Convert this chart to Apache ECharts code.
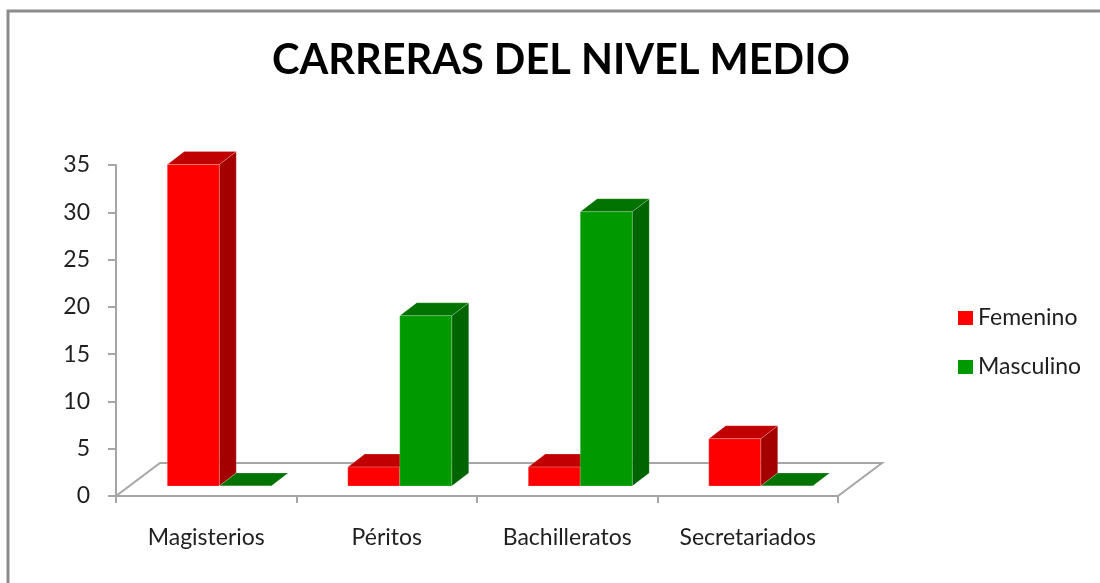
<!DOCTYPE html>
<html>
<head>
<meta charset="utf-8">
<script src="https://cdn.jsdelivr.net/npm/echarts@6/dist/echarts.min.js"></script>
<style>
html,body{margin:0;padding:0;background:#fff;}
#chart{width:1100px;height:583px;}
</style>
</head>
<body>
<div id="chart"></div>
<script>
const titleText = 'CARRERAS DEL NIVEL MEDIO';
const categories = ['Magisterios', 'Péritos', 'Bachilleratos', 'Secretariados'];
const seriesNames = ['Femenino', 'Masculino'];
const femenino = [34, 2, 2, 5];
const masculino = [0, 18, 29, 0];
const yMin = 0;
const yMax = 35;
const yInterval = 5;

const palettes = [
  { front: '#ff0000', side: '#a50000', top: '#c00000' },
  { front: '#009900', side: '#006400', top: '#007300' }
];

// 3D projection parameters (pixels)
const FLOOR_DX = 44, FLOOR_DY = -33;
const BAR_SHIFT_X = 13, BAR_SHIFT_Y = -10;
const BAR_DX = 17, BAR_DY = -13;

function makeRender(idx) {
  const pal = palettes[idx];
  return function (params, api) {
    const cat = api.value(0);
    const val = api.value(1);
    const base = api.coord([cat, 0]);
    const top = api.coord([cat, val]);
    const band = api.size([1, 0])[0];
    const bw = band * 0.288;
    const x0 = base[0] + BAR_SHIFT_X + (idx === 0 ? -bw : 0);
    const x1 = x0 + bw;
    const yb = base[1] + BAR_SHIFT_Y;
    const yt = top[1] + BAR_SHIFT_Y;
    const edge = { stroke: 'rgba(255,255,255,0.35)', lineWidth: 0.6 };
    return {
      type: 'group',
      children: [
        { type: 'polygon', shape: { points: [[x1, yb], [x1 + BAR_DX, yb + BAR_DY], [x1 + BAR_DX, yt + BAR_DY], [x1, yt]] },
          style: Object.assign({ fill: pal.side }, edge) },
        { type: 'polygon', shape: { points: [[x0, yt], [x0 + BAR_DX, yt + BAR_DY], [x1 + BAR_DX, yt + BAR_DY], [x1, yt]] },
          style: Object.assign({ fill: pal.top }, edge) },
        { type: 'rect', shape: { x: x0, y: yt, width: bw, height: yb - yt },
          style: Object.assign({ fill: pal.front }, edge) }
      ]
    };
  };
}

function renderFloor(params, api) {
  if (params.dataIndex !== 0) return null;
  const first = api.coord([0, 0]);
  const last = api.coord([categories.length - 1, 0]);
  const band = api.size([1, 0])[0];
  const xl = first[0] - band / 2, xr = last[0] + band / 2, y = first[1];
  return {
    type: 'group',
    children: [
      { type: 'polygon', shape: { points: [[xl, y], [xl + FLOOR_DX, y + FLOOR_DY], [xr + FLOOR_DX, y + FLOOR_DY], [xr, y]] },
        style: { fill: '#ffffff', stroke: '#a6a6a6', lineWidth: 2 } }
    ]
  };
}

const chart = echarts.init(document.getElementById('chart'), null, { renderer: 'canvas' });
const labelFont = 'Lato, "DejaVu Sans", sans-serif';

chart.setOption({
  backgroundColor: '#ffffff',
  animation: false,
  title: {
    text: titleText,
    left: 267,
    top: 35,
    textStyle: { fontFamily: labelFont, fontWeight: 'bold', fontSize: 41.5, color: '#000000' }
  },
  legend: {
    orient: 'vertical',
    left: 953,
    top: 301,
    itemWidth: 15,
    itemHeight: 14,
    itemGap: 25,
    icon: 'rect',
    data: seriesNames,
    textStyle: { fontFamily: labelFont, fontSize: 23, color: '#1f1f1f', lineHeight: 24 }
  },
  grid: { left: 116, right: 262, top: 165, bottom: 87, containLabel: false },
  xAxis: {
    type: 'category',
    data: categories,
    boundaryGap: true,
    axisLine: { show: true, lineStyle: { color: '#a6a6a6', width: 2 } },
    axisTick: { show: true, alignWithLabel: false, length: 7, lineStyle: { color: '#a6a6a6', width: 2 } },
    axisLabel: { margin: 30, fontFamily: labelFont, fontSize: 23, color: '#1f1f1f' },
    splitLine: { show: false }
  },
  yAxis: {
    type: 'value',
    min: yMin,
    max: yMax,
    interval: yInterval,
    axisLine: { show: true, lineStyle: { color: '#a6a6a6', width: 2 } },
    axisTick: { show: true, length: 8, lineStyle: { color: '#a6a6a6', width: 2 } },
    axisLabel: { margin: 26, fontFamily: labelFont, fontSize: 23, color: '#1f1f1f' },
    splitLine: { show: false }
  },
  graphic: [
    { type: 'polyline', shape: { points: [[8, 1200], [8, 11], [1200, 11]] }, style: { stroke: '#8c8c8c', lineWidth: 3, fill: null }, silent: true }
  ],
  series: [
    { type: 'custom', name: '_floor', renderItem: renderFloor, data: [[0, 0]], z: 1, silent: true, legendHoverLink: false },
    { type: 'custom', name: seriesNames[0], renderItem: makeRender(0), itemStyle: { color: palettes[0].front },
      data: femenino.map((v, i) => [i, v]), z: 3 },
    { type: 'custom', name: seriesNames[1], renderItem: makeRender(1), itemStyle: { color: palettes[1].front },
      data: masculino.map((v, i) => [i, v]), z: 4 }
  ]
});
</script>
</body>
</html>
